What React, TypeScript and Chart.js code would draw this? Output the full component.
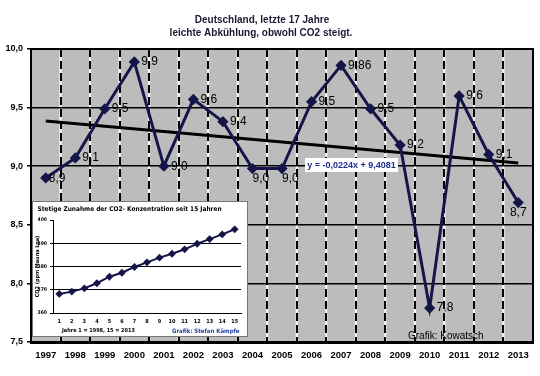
import React, { useEffect, useRef } from 'react';
import { Chart, registerables } from 'chart.js';
Chart.register(...registerables);

const years = ['1997', '1998', '1999', '2000', '2001', '2002', '2003', '2004', '2005', '2006', '2007', '2008', '2009', '2010', '2011', '2012', '2013'];
const temps = [8.9, 9.07, 9.49, 9.89, 9.0, 9.57, 9.38, 8.98, 8.98, 9.55, 9.86, 9.49, 9.18, 7.79, 9.6, 9.1, 8.69];
const tempLabels = ['8,9', '9,1', '9,5', '9,9', '9,0', '9,6', '9,4', '9,0', '9,0', '9,5', '9,86', '9,5', '9,2', '7,8', '9,6', '9,1', '8,7'];
const labelPlacement = ['rb', 'r', 'r', 'r', 'r', 'r', 'r', 'b', 'b', 'r', 'r', 'r', 'r', 'r', 'r', 'r', 'bc'];
const trend = [9.3857, null, null, null, null, null, null, null, null, null, null, null, null, null, null, null, 9.0273];
const equationText = 'y = -0,0224x + 9,4081';

const co2Index = ['1', '2', '3', '4', '5', '6', '7', '8', '9', '10', '11', '12', '13', '14', '15'];
const co2 = [368.2, 369.2, 370.6, 372.8, 375.6, 377.3, 379.8, 381.8, 383.8, 385.5, 387.4, 389.8, 391.8, 393.8, 396.0];

const SANS = "'Liberation Sans', Arial, Helvetica, sans-serif";
const NARROW = "'Liberation Sans Narrow', 'Arial Narrow', 'DejaVu Sans Condensed', 'Liberation Sans', sans-serif";
const NAVY = '#15154a';

export default function App() {
  const mainRef = useRef<HTMLCanvasElement | null>(null);
  const insetRef = useRef<HTMLCanvasElement | null>(null);

  useEffect(() => {
    const bgPlugin = {
      id: 'bgPlugin',
      beforeDraw(chart: any) {
        const { ctx, chartArea: a, scales } = chart;
        ctx.save();
        ctx.fillStyle = '#bcbcbc';
        ctx.fillRect(a.left, a.top, a.right - a.left, a.bottom - a.top);
        const xs = scales.x;
        const half = (xs.getPixelForValue(1) - xs.getPixelForValue(0)) / 2;
        ctx.strokeStyle = '#ffffff';
        ctx.lineWidth = 2;
        for (let i = 0; i <= years.length; i++) {
          const x = xs.getPixelForValue(i) - half;
          ctx.beginPath();
          ctx.moveTo(x, a.top);
          ctx.lineTo(x, a.bottom);
          ctx.stroke();
        }
        ctx.restore();
      },
      beforeDatasetsDraw(chart: any) {
        const { ctx, chartArea: a } = chart;
        ctx.save();
        ctx.strokeStyle = '#000';
        ctx.lineWidth = 2;
        ctx.strokeRect(a.left, a.top, a.right - a.left, a.bottom - a.top);
        ctx.restore();
      },
    };

    const labelPlugin = {
      id: 'labelPlugin',
      afterDatasetsDraw(chart: any) {
        const { ctx } = chart;
        const meta = chart.getDatasetMeta(0);
        ctx.save();
        ctx.font = `12px ${SANS}`;
        ctx.fillStyle = '#000';
        meta.data.forEach((pt: any, i: number) => {
          const p = labelPlacement[i];
          let x = pt.x + 7;
          let y = pt.y;
          ctx.textAlign = 'left';
          ctx.textBaseline = 'middle';
          if (p === 'b') {
            x = pt.x;
            y = pt.y + 10;
          } else if (p === 'bc') {
            ctx.textAlign = 'center';
            x = pt.x;
            y = pt.y + 10;
          } else if (p === 'rb') {
            x = pt.x + 3;
            y = pt.y + 1;
          }
          ctx.fillText(tempLabels[i], x, y);
        });
        ctx.restore();
      },
      afterDraw(chart: any) {
        const { ctx } = chart;
        ctx.save();
        ctx.fillStyle = '#1a1a33';
        ctx.textAlign = 'center';
        ctx.textBaseline = 'middle';
        ctx.font = `bold 10px ${SANS}`;
        ctx.fillText('Deutschland, letzte 17 Jahre', 262, 20);
        ctx.fillText('leichte Abkühlung, obwohl CO2 steigt.', 261, 33);
        ctx.fillStyle = '#ffffff';
        ctx.fillRect(305, 158, 93, 14);
        ctx.fillStyle = '#1f2f8f';
        ctx.font = `bold 9px ${SANS}`;
        ctx.fillText(equationText, 351.5, 165.5);
        ctx.fillStyle = '#000';
        ctx.textAlign = 'left';
        ctx.font = `10px ${SANS}`;
        ctx.fillText('Grafik: Kowatsch', 408, 336);
        ctx.restore();
      },
    };

    const main = new Chart(mainRef.current as HTMLCanvasElement, {
      type: 'line',
      data: {
        labels: years,
        datasets: [
          {
            data: temps,
            borderColor: NAVY,
            backgroundColor: NAVY,
            borderWidth: 3,
            pointStyle: 'rectRot',
            pointRadius: 3.5,
            pointBackgroundColor: NAVY,
            pointBorderColor: NAVY,
            tension: 0,
          },
          {
            data: trend,
            borderColor: '#000',
            borderWidth: 3,
            pointRadius: 0,
            spanGaps: true,
          },
        ],
      },
      options: {
        responsive: false,
        animation: false,
        layout: { padding: { top: 49, right: 3, left: 0, bottom: 0 } },
        plugins: { legend: { display: false }, tooltip: { enabled: false }, title: { display: false } },
        scales: {
          x: {
            offset: true,
            grid: { offset: true, color: '#000', lineWidth: 2, drawTicks: true, tickLength: 6, tickColor: 'rgba(0,0,0,0)' },
            border: { display: true, color: '#000', width: 3, dash: [8, 4] },
            ticks: { color: '#000', font: { family: SANS, size: 9.5, weight: 'bold' }, padding: 2, maxRotation: 0, autoSkip: false },
            afterFit(scale: any) {
              scale.height = 34;
              scale.paddingLeft = 0;
              scale.paddingRight = 0;
            },
          },
          y: {
            min: 7.5,
            max: 10,
            ticks: {
              stepSize: 0.5,
              color: '#000',
              font: { family: SANS, size: 9, weight: 'bold' },
              padding: 4,
              callback: (v: any) => Number(v).toFixed(1).replace('.', ','),
            },
            grid: { color: '#000', lineWidth: 1.5, tickLength: 4 },
            border: { display: true, color: '#000', width: 2 },
            afterFit(scale: any) {
              scale.width = 31;
              scale.paddingTop = 0;
              scale.paddingBottom = 0;
            },
          },
        },
      },
      plugins: [bgPlugin, labelPlugin],
    } as any);

    const insetText = {
      id: 'insetText',
      afterDraw(chart: any) {
        const { ctx } = chart;
        ctx.save();
        ctx.textBaseline = 'middle';
        ctx.textAlign = 'center';
        ctx.fillStyle = '#000';
        ctx.font = `bold 6.5px ${NARROW}`;
        ctx.fillText('Stetige Zunahme der CO2- Konzentration seit 15 Jahren', 96.5, 7);
        ctx.textAlign = 'left';
        ctx.font = `bold 5.5px ${NARROW}`;
        ctx.fillText('Jahre 1 = 1998, 15 = 2013', 29, 129);
        ctx.fillStyle = '#1f3fa0';
        ctx.font = `bold 6px ${NARROW}`;
        ctx.fillText('Grafik: Stefan Kämpfe', 139, 129);
        ctx.restore();
      },
    };

    const inset = new Chart(insetRef.current as HTMLCanvasElement, {
      type: 'line',
      data: {
        labels: co2Index,
        datasets: [
          {
            data: co2,
            borderColor: NAVY,
            backgroundColor: NAVY,
            borderWidth: 2,
            pointStyle: 'rectRot',
            pointRadius: 2.5,
            pointBackgroundColor: NAVY,
            pointBorderColor: NAVY,
          },
        ],
      },
      options: {
        responsive: false,
        animation: false,
        layout: { padding: { top: 18, right: 5, left: 0, bottom: 0 } },
        plugins: { legend: { display: false }, tooltip: { enabled: false } },
        scales: {
          x: {
            offset: true,
            grid: { display: false, drawTicks: true, tickLength: 4, tickColor: 'rgba(0,0,0,0)' },
            border: { display: true, color: '#000', width: 1 },
            ticks: { color: '#000', font: { family: NARROW, size: 5.5, weight: 'bold' }, padding: 1, maxRotation: 0, autoSkip: false },
            afterFit(scale: any) {
              scale.height = 23;
              scale.paddingLeft = 0;
              scale.paddingRight = 0;
            },
          },
          y: {
            min: 360,
            max: 400,
            ticks: { stepSize: 10, color: '#000', font: { family: NARROW, size: 5, weight: 'bold' }, padding: 3 },
            grid: {
              color: (c: any) => (c.tick && c.tick.value > 360 && c.tick.value < 400 ? '#000' : 'rgba(0,0,0,0)'),
              tickColor: '#000',
              tickLength: 3,
              lineWidth: 1,
            },
            border: { display: true, color: '#000', width: 1 },
            title: { display: true, text: 'CO2 (ppm Mauna Loa)', color: '#000', font: { family: NARROW, size: 5.5, weight: 'bold' }, padding: 1 },
            afterFit(scale: any) {
              scale.width = 20;
              scale.paddingTop = 0;
              scale.paddingBottom = 0;
            },
          },
        },
      },
      plugins: [insetText],
    } as any);

    return () => {
      main.destroy();
      inset.destroy();
    };
  }, []);

  return (
    <div style={{ position: 'absolute', left: 0, top: 0, width: 540, height: 376, background: '#fff' }}>
      <canvas ref={mainRef} width={540} height={376} style={{ display: 'block', position: 'absolute', left: 0, top: 0 }} />
      <div
        style={{
          position: 'absolute',
          left: 32,
          top: 201,
          width: 216,
          height: 136,
          boxSizing: 'border-box',
          border: '1px solid #777',
          background: '#fff',
          zIndex: 2,
        }}
      >
        <canvas ref={insetRef} width={214} height={134} style={{ display: 'block' }} />
      </div>
    </div>
  );
}
